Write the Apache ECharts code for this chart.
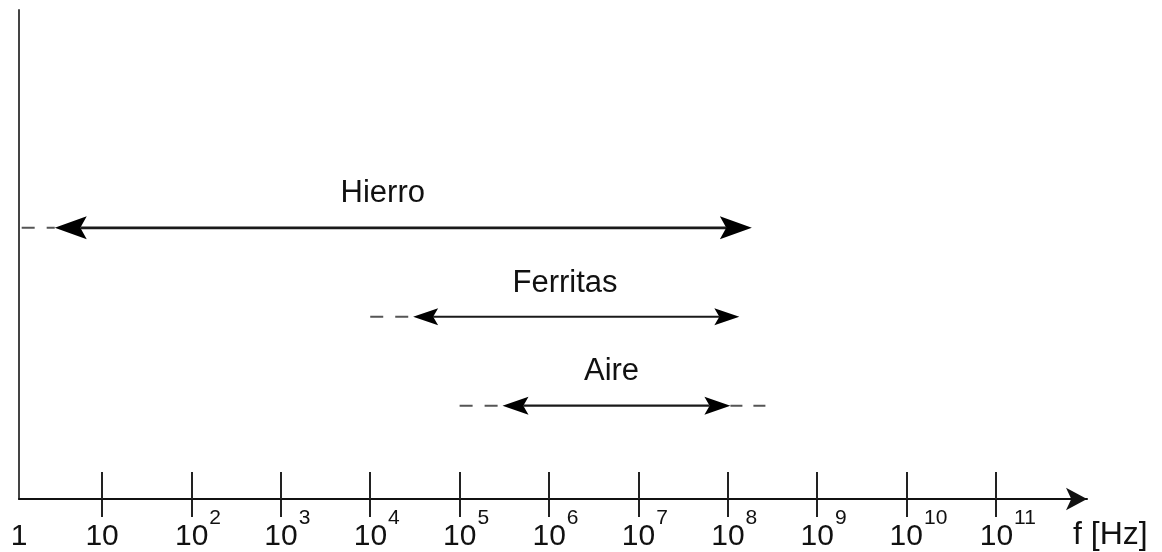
<!DOCTYPE html>
<html><head><meta charset="utf-8">
<script src="https://cdn.jsdelivr.net/npm/echarts@6/dist/echarts.min.js"></script>
<style>html,body{margin:0;padding:0;background:#fff}#c{width:1162px;height:552px}</style>
</head><body><div id="c"></div>
<script>
// Frequency axis in decades: value = log10(f / Hz)
const materials = ['Hierro', 'Ferritas', 'Aire'];
const rowLevel = [3, 2, 1];
const arrowStart = [0.47, 4.48, 5.48];
const arrowEnd = [8.27, 8.13, 8.03];
const dashLeftStart = [0.10, 4.00, 5.00];
const dashRightEnd = [null, null, 8.45];
const labelX = [4.14, 6.18, 6.70];
const tickExponents = [1, 2, 3, 4, 5, 6, 7, 8, 9, 10, 11];
const tickLabels = ['1', '10', '10^2', '10^3', '10^4', '10^5', '10^6', '10^7', '10^8', '10^9', '10^10', '10^11'];
const axisName = 'f [Hz]';

const X_MIN = 0.07, X_MAX = 12.02, Y_MIN = -0.05, Y_MAX = 5.45;
const FONT = '"Liberation Sans", Arial, Helvetica, sans-serif';

// per-row drawing styles
const headLen = [32, 25, 26];
const headW = [23, 17, 18];
const shaftW = [2.6, 2.2, 2.2];
const labelLift = [34, 33, 34];
const labelFont = 31;

function fmtTick(v) {
  const t = tickLabels[Math.round(v)];
  if (t.indexOf('^') < 0) return '{bp|' + t + '}';
  const p = t.split('^');
  const cls = p[1].length > 1 ? 'b2' : 'b1';
  return '{' + cls + '|' + p[0] + '}{s|' + p[1] + '}';
}

const gridBox = {left: 19, right: 75, top: 10, bottom: 52, containLabel: false};
const chart = echarts.init(document.getElementById('c'), null, {renderer: 'canvas'});
const baseB = {fontSize: 30, lineHeight: 30, color: '#111', fontFamily: FONT, verticalAlign: 'bottom'};
chart.setOption({
  animation: false,
  backgroundColor: '#fff',
  grid: [Object.assign({}, gridBox), Object.assign({}, gridBox)],
  xAxis: [{
    gridIndex: 0,
    type: 'value', min: X_MIN, max: X_MAX, position: 'bottom',
    axisLine: {show: true, onZero: false, lineStyle: {color: '#111', width: 2},
      symbol: ['none', 'arrow'], symbolSize: [17, 21]},
    axisTick: {show: true, inside: true, length: 27, customValues: tickExponents,
      lineStyle: {color: '#222', width: 2}},
    axisLabel: {show: true, margin: 23, customValues: [X_MIN].concat(tickExponents),
      formatter: fmtTick,
      rich: {
        bp: Object.assign({}, baseB, {padding: [14, 0, 0, 0]}),
        b1: Object.assign({}, baseB, {padding: [0, 0, 0, 13]}),
        b2: Object.assign({}, baseB, {padding: [0, 0, 0, 24]}),
        s: {fontSize: 21, lineHeight: 21, color: '#111', fontFamily: FONT, verticalAlign: 'bottom', padding: [0, 0, 23, 1]}
      }},
    splitLine: {show: false},
    name: axisName, nameLocation: 'end', nameGap: -14,
    nameTextStyle: {fontSize: 32, color: '#111', fontFamily: FONT, align: 'left', verticalAlign: 'top',
      lineHeight: 32, padding: [20, 0, 0, 0]}
  }, {
    gridIndex: 1,
    type: 'value', min: X_MIN, max: X_MAX, position: 'bottom',
    axisLine: {show: false, onZero: false},
    axisTick: {show: true, inside: false, length: 17, customValues: tickExponents,
      lineStyle: {color: '#222', width: 2}},
    axisLabel: {show: false},
    splitLine: {show: false}
  }],
  yAxis: [{
    gridIndex: 0,
    type: 'value', min: Y_MIN, max: Y_MAX,
    axisLine: {show: true, onZero: false, lineStyle: {color: '#444', width: 2}},
    axisTick: {show: false}, axisLabel: {show: false}, splitLine: {show: false}
  }, {
    gridIndex: 1,
    type: 'value', min: Y_MIN, max: Y_MAX,
    axisLine: {show: false}, axisTick: {show: false}, axisLabel: {show: false}, splitLine: {show: false}
  }],
  series: [{
    type: 'custom',
    xAxisIndex: 0, yAxisIndex: 0,
    clip: false,
    encode: {x: [0, 1], y: 2},
    data: materials.map((m, i) => [arrowStart[i], arrowEnd[i], rowLevel[i], i]),
    renderItem: function (params, api) {
      const i = api.value(3);
      const y = rowLevel[i];
      const p1 = api.coord([arrowStart[i], y]);
      const p2 = api.coord([arrowEnd[i], y]);
      const L = headLen[i], W = headW[i];
      const children = [];
      const dashStyle = {stroke: '#555', lineWidth: 2, lineDash: [13, 12], fill: null};
      if (dashLeftStart[i] != null) {
        const d = api.coord([dashLeftStart[i], y]);
        children.push({type: 'line', shape: {x1: d[0], y1: d[1], x2: p1[0], y2: p1[1]}, style: dashStyle});
      }
      if (dashRightEnd[i] != null) {
        const d = api.coord([dashRightEnd[i], y]);
        children.push({type: 'line', shape: {x1: p2[0], y1: p2[1], x2: d[0], y2: d[1]},
          style: Object.assign({}, dashStyle, {lineDash: [12, 11]})});
      }
      children.push({type: 'line', shape: {x1: p1[0] + L * 0.8, y1: p1[1], x2: p2[0] - L * 0.8, y2: p2[1]},
        style: {stroke: '#1a1a1a', lineWidth: shaftW[i]}});
      children.push({type: 'polygon', shape: {points: [
        [p1[0], p1[1]], [p1[0] + L, p1[1] - W / 2], [p1[0] + L * 0.8, p1[1]], [p1[0] + L, p1[1] + W / 2]]},
        style: {fill: '#000'}});
      children.push({type: 'polygon', shape: {points: [
        [p2[0], p2[1]], [p2[0] - L, p2[1] - W / 2], [p2[0] - L * 0.8, p2[1]], [p2[0] - L, p2[1] + W / 2]]},
        style: {fill: '#000'}});
      const lp = api.coord([labelX[i], y]);
      children.push({type: 'text', x: lp[0], y: lp[1] - labelLift[i], style: {
        text: materials[i], fill: '#111', font: labelFont + 'px ' + FONT,
        align: 'center', verticalAlign: 'middle', textAlign: 'center', textVerticalAlign: 'middle'}});
      return {type: 'group', children: children};
    }
  }]
});
</script>
</body></html>
